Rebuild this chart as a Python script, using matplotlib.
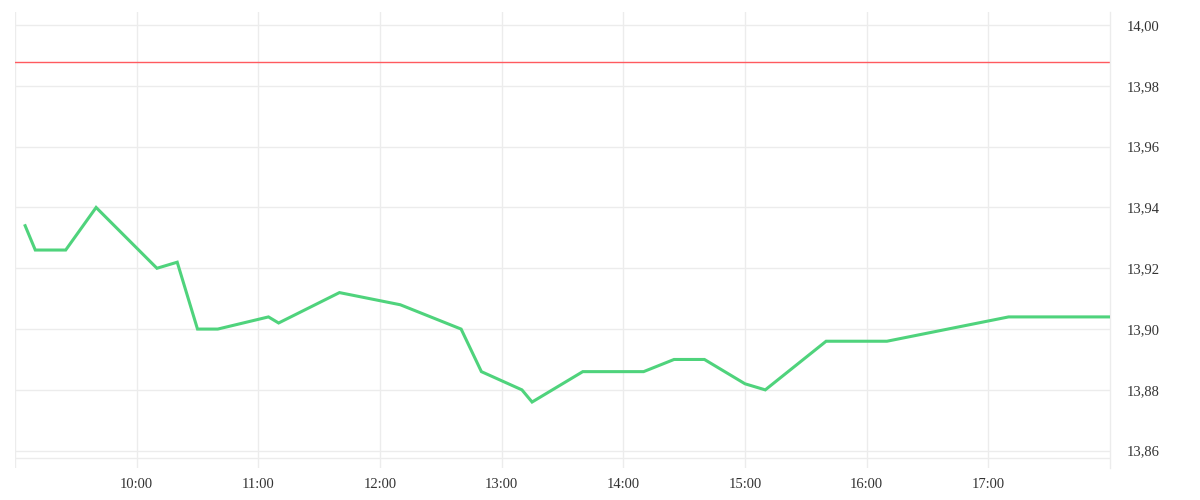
import matplotlib
matplotlib.use("Agg")
import matplotlib.pyplot as plt
import pandas as pd

times = ["09:05", "09:10", "09:25", "09:40", "10:10", "10:20", "10:30", "10:40",
         "11:05", "11:10", "11:40", "12:10", "12:40", "12:50", "13:10", "13:15",
         "13:40", "14:10", "14:25", "14:40", "15:00", "15:10", "15:40", "16:10",
         "17:10", "18:00"]
prices = [13.934, 13.926, 13.926, 13.940, 13.920, 13.922, 13.900, 13.900,
          13.904, 13.902, 13.912, 13.908, 13.900, 13.886, 13.880, 13.876,
          13.886, 13.886, 13.890, 13.890, 13.882, 13.880, 13.896, 13.896,
          13.904, 13.904]
reference_price = 13.988
y_ticks = [13.86, 13.88, 13.90, 13.92, 13.94, 13.96, 13.98, 14.00]
x_tick_labels = ["10:00", "11:00", "12:00", "13:00", "14:00", "15:00", "16:00", "17:00"]

day = "2024-01-02 "
x = pd.to_datetime([day + t for t in times])
xt = pd.to_datetime([day + t for t in x_tick_labels])
x0 = pd.Timestamp(day + "09:00")
x1 = pd.Timestamp(day + "18:00")

plt.rcParams['font.family'] = ['Liberation Serif', 'DejaVu Serif']

fig = plt.figure(figsize=(12, 5), dpi=100)
ax = fig.add_axes([15/1200, 32/500, (1110-15)/1200, (468-12)/500])

grid_c = "#ececec"
for h in pd.date_range(x0, x1, freq="1h")[:-1]:
    ax.axvline(h, color=grid_c, lw=1, zorder=0)
for v in y_ticks:
    ax.axhline(v, color=grid_c, lw=1, zorder=0)
ax.axhline(13.8575, color=grid_c, lw=1, zorder=0)

ax.axhline(reference_price, color="#ff5a5f", lw=1, zorder=2)
ax.plot(x, prices, color="#4fd37c", lw=2.2, zorder=3, solid_joinstyle="miter")

ax.set_xlim(x0, x1)
ax.set_ylim(13.8543, 14.0043)

for s in ["top", "left", "bottom"]:
    ax.spines[s].set_visible(False)
ax.spines["right"].set_color(grid_c)
ax.spines["right"].set_linewidth(1)

ax.yaxis.tick_right()
ax.set_yticks(y_ticks)
ax.set_yticklabels([f"{v:.2f}".replace(".", ",") for v in y_ticks])
ax.set_xticks(xt)
ax.set_xticklabels(x_tick_labels)
ax.tick_params(axis="y", length=0, pad=12, labelsize=10.5, labelcolor="#333333")
ax.tick_params(axis="x", length=0, pad=7, labelsize=10.5, labelcolor="#333333")

fig.savefig("out.png", dpi=100, facecolor="white")
